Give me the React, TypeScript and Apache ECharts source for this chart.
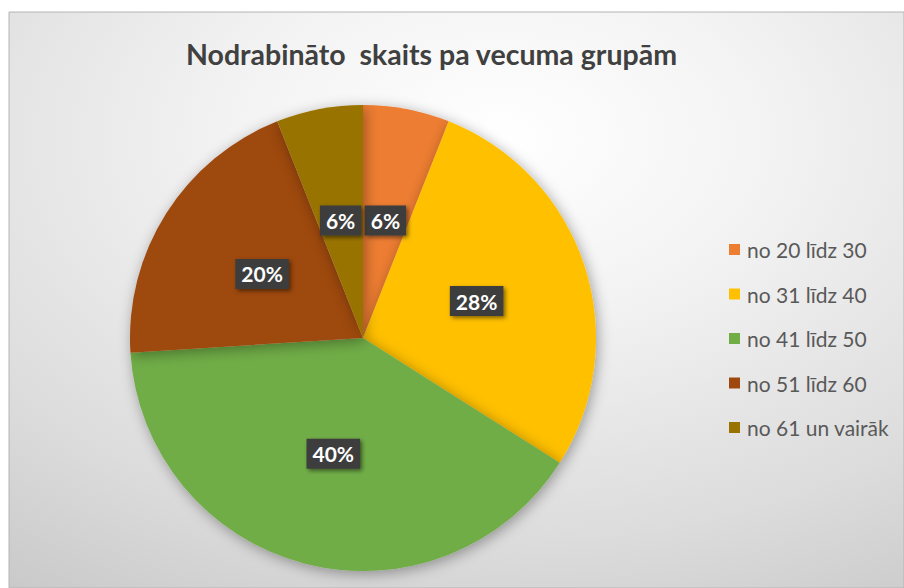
import React, { useEffect, useRef } from "react";
import * as echarts from "echarts";

const categories = ["no 20 līdz 30", "no 31 līdz 40", "no 41 līdz 50", "no 51 līdz 60", "no 61 un vairāk"];
const shares = [6, 28, 40, 20, 6];
const colors = ["#ED7D31", "#FFC000", "#70AD47", "#9E480E", "#997300"];
const titleText = "Nodrabināto  skaits pa vecuma grupām";

export default function App() {
  const ref = useRef<HTMLDivElement>(null);
  useEffect(() => {
    if (!ref.current) return;
    const chart = echarts.init(ref.current, null, { renderer: "svg" });
    chart.setOption({
      animation: false,
      graphic: [
        {
          type: "rect",
          z: -10,
          silent: true,
          shape: { x: 9, y: 12, width: 895, height: 576 },
          style: {
            fill: new echarts.graphic.RadialGradient(0.55, 0.22, 1.0, [
              { offset: 0, color: "#ffffff" },
              { offset: 0.3, color: "#f3f3f3" },
              { offset: 0.7, color: "#dcdcdc" },
              { offset: 1, color: "#c6c6c6" },
            ]),
            stroke: "#b4b4b4",
            lineWidth: 1,
          },
        },
      ],
      title: {
        text: titleText,
        left: 181,
        top: 34,
        textStyle: {
          fontFamily: "Lato",
          fontSize: 28.5,
          fontWeight: "bold",
          color: "#404040",
        },
      },
      legend: {
        orient: "vertical",
        left: 724,
        top: 234,
        icon: "rect",
        itemWidth: 11,
        itemHeight: 11,
        itemGap: 23.5,
        data: categories,
        textStyle: { fontFamily: "Lato", fontSize: 21, color: "#595959", padding: [0, 0, 0, 2] },
      },
      series: [
        {
          type: "pie",
          center: [363, 338],
          radius: 233,
          startAngle: 90,
          clockwise: true,
          color: colors,
          itemStyle: {
            shadowBlur: 14,
            shadowColor: "rgba(0,0,0,0.35)",
            shadowOffsetX: 2,
            shadowOffsetY: 3,
          },
          label: {
            show: true,
            position: "inside",
            formatter: "{c}%",
            fontFamily: "Lato",
            fontSize: 21,
            fontWeight: "bold",
            color: "#ffffff",
            backgroundColor: "#3c3c3c",
            padding: [5, 6, 4, 6],
            shadowBlur: 4,
            shadowColor: "rgba(0,0,0,0.5)",
            shadowOffsetX: 2,
            shadowOffsetY: 2,
          },
          labelLine: { show: false },
          data: categories.map((name, i) => ({ name, value: shares[i] })),
        },
      ],
    });
    return () => chart.dispose();
  }, []);
  return (
    <div style={{ position: "absolute", left: 0, top: 0, width: 904, height: 588, background: "#ffffff" }}>
      <div ref={ref} style={{ width: 904, height: 588 }} />
    </div>
  );
}
